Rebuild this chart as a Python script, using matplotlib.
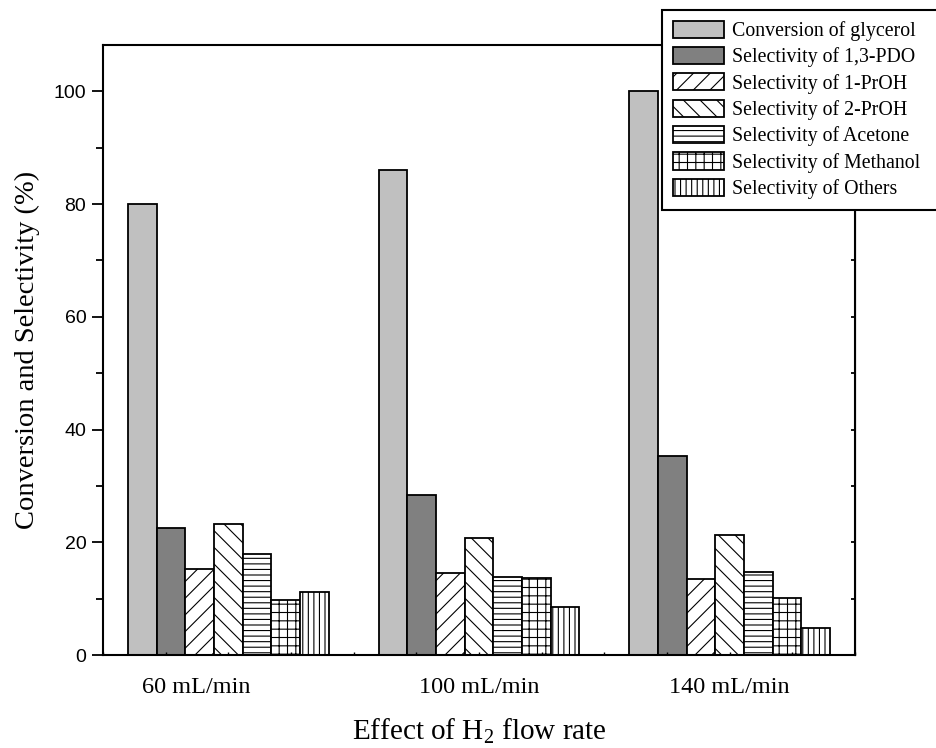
import numpy as np
import matplotlib as mpl
mpl.use('Agg')
import matplotlib.pyplot as plt
from matplotlib.ticker import MultipleLocator
from matplotlib.transforms import ScaledTranslation

# Flow rates and measured values (%)
flow_rates = ['60 mL/min', '100 mL/min', '140 mL/min']
conversion_glycerol = [80.0, 86.0, 100.0]
sel_13pdo = [22.6, 28.4, 35.3]
sel_1proh = [15.3, 14.6, 13.5]
sel_2proh = [23.2, 20.7, 21.3]
sel_acetone = [17.9, 13.9, 14.8]
sel_methanol = [9.8, 13.7, 10.2]
sel_others = [11.2, 8.6, 4.8]

series = [
    ('Conversion of glycerol', conversion_glycerol, '#c0c0c0', None),
    ('Selectivity of 1,3-PDO', sel_13pdo, '#808080', None),
    ('Selectivity of 1-PrOH', sel_1proh, 'white', '//'),
    ('Selectivity of 2-PrOH', sel_2proh, 'white', '\\\\'),
    ('Selectivity of Acetone', sel_acetone, 'white', '---'),
    ('Selectivity of Methanol', sel_methanol, 'white', '++'),
    ('Selectivity of Others', sel_others, 'white', '|||'),
]

plt.rcParams['hatch.linewidth'] = 0.8
plt.rcParams['hatch.color'] = 'black'
plt.rcParams['mathtext.fontset'] = 'custom'
plt.rcParams['mathtext.rm'] = 'Liberation Serif'
plt.rcParams['mathtext.it'] = 'Liberation Serif:italic'
serif = ['Liberation Serif', 'DejaVu Serif']
sans = ['Liberation Sans', 'DejaVu Sans']

fig = plt.figure(figsize=(9.36, 7.48), dpi=100)
ax = fig.add_axes([0.110, 0.1243, 0.8035, 0.8155])

x = np.arange(1, len(flow_rates) + 1)
width = 0.1143
n = len(series)
for i, (label, vals, color, hatch) in enumerate(series):
    offs = (i - (n - 1) / 2) * width
    ax.bar(x + offs, vals, width, color=color, edgecolor='black', linewidth=1.3,
           hatch=hatch, label=label)

ax.set_xlim(0.5, 3.5)
ax.set_ylim(0, 108.2)

ax.set_xticks(x)
ax.set_xticklabels(flow_rates, fontsize=17.5, family=serif)
ax.xaxis.set_minor_locator(MultipleLocator(0.25))
ax.tick_params(axis='x', which='both', direction='in', length=2, width=1, pad=16)
# first category label sits a bit left in the original layout
lbl0 = ax.get_xticklabels()[0]
lbl0.set_transform(lbl0.get_transform() + ScaledTranslation(-0.32, 0, fig.dpi_scale_trans))

ax.yaxis.set_major_locator(MultipleLocator(20))
ax.yaxis.set_minor_locator(MultipleLocator(10))
ax.tick_params(axis='y', which='major', direction='out', length=8, width=1.3, labelsize=14, pad=4)
ax.tick_params(axis='y', which='minor', direction='out', length=5, width=1.3)
for t in ax.get_yticklabels():
    t.set_family(sans)

# inward ticks on the right spine
ax2 = ax.secondary_yaxis('right')
ax2.yaxis.set_major_locator(MultipleLocator(20))
ax2.yaxis.set_minor_locator(MultipleLocator(10))
ax2.tick_params(which='both', direction='in', length=3, width=1.3, labelright=False)

for sp in ax.spines.values():
    sp.set_linewidth(1.5)

ax.set_ylabel('Conversion and Selectivity (%)', fontsize=20.5, family=serif, labelpad=10)
ax.set_xlabel(r'Effect of $\mathregular{H_2}$ flow rate', fontsize=21, family=serif, labelpad=13)

leg = fig.legend(loc='upper left', bbox_to_anchor=(0.707, 0.5, 0.31, 0.487), mode='expand',
                 borderaxespad=0, prop={'family': serif, 'size': 14.3}, frameon=True,
                 fancybox=False, edgecolor='black', framealpha=1, handlelength=2.6,
                 handleheight=0.95, labelspacing=0.3, handletextpad=0.4, borderpad=0.55)
leg.get_frame().set_linewidth(1.5)
leg.set_zorder(10)

fig.savefig('out.png', dpi=100)
